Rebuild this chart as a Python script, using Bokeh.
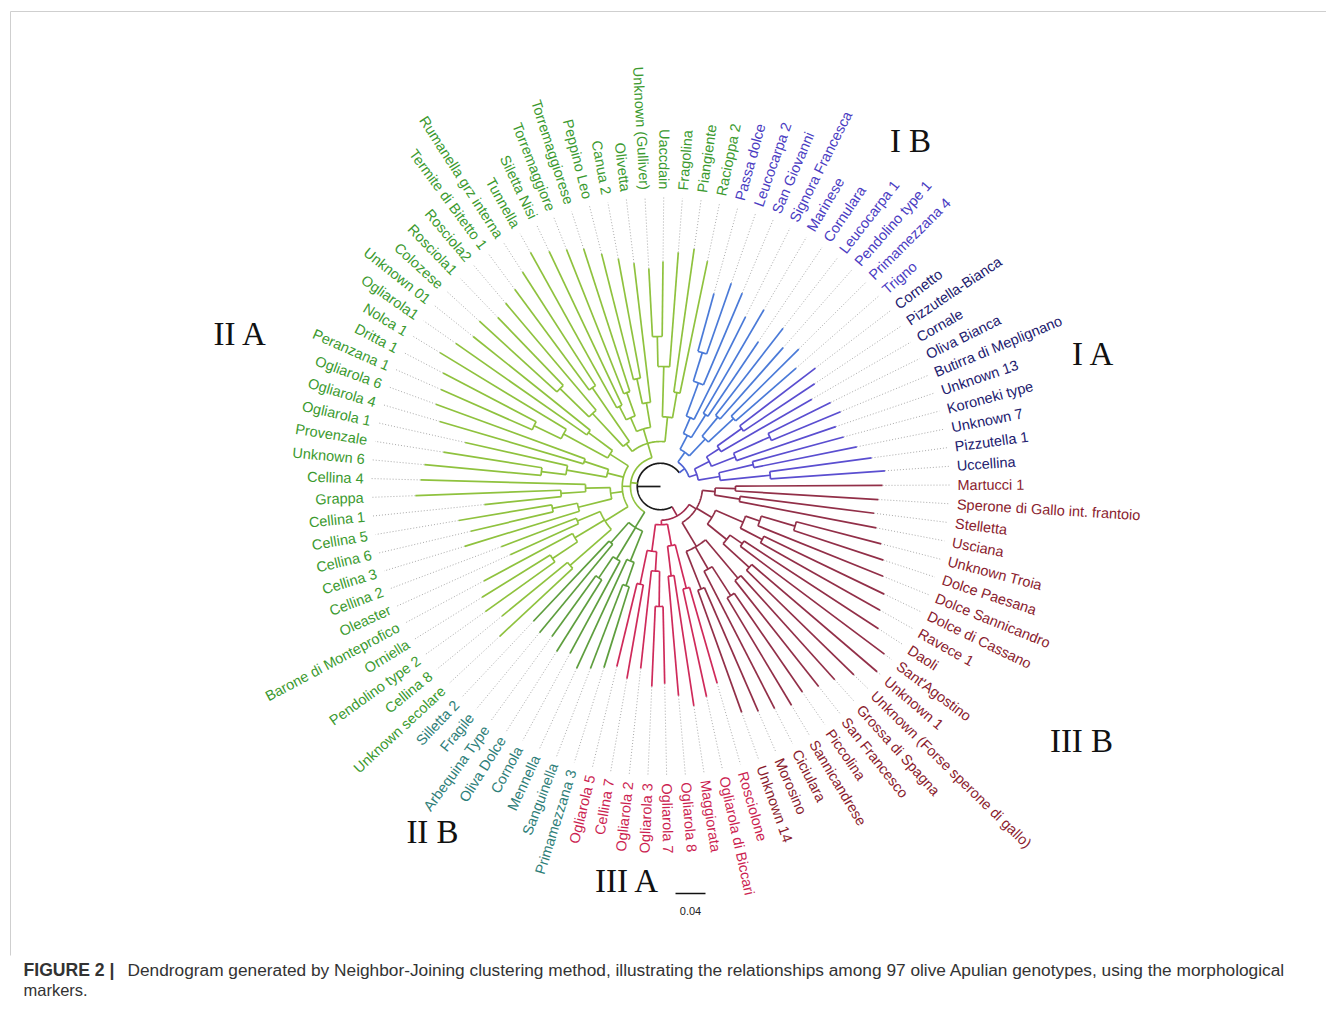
import math
from bokeh.plotting import figure
from bokeh.models import Range1d, ColumnDataSource
from bokeh.embed import file_html
from bokeh.resources import INLINE
from bokeh.core.properties import value

# ---------------- data ----------------
IA_NAMES = ["Uccellina", "Pizzutella 1", "Unknown 7", "Koroneki type", "Unknown 13",
            "Butirra di Meplignano", "Oliva Bianca", "Cornale", "Pizzutella-Bianca", "Cornetto"]
IB_NAMES = ["Trigno", "Primamezzana 4", "Pendolino type 1", "Leucocarpa 1", "Cornulara",
            "Marinese", "Signora Francesca", "San Giovanni", "Leucocarpa 2", "Passa dolce"]
IIA_NAMES = ["Racioppa 2", "Piangiente", "Fragolina", "Uaccdain", "Unknown (Gulliver)", "Olivetta",
             "Canua 2", "Peppino Leo", "Torremaggiorese", "Torremaggiore", "Siletta Nisi", "Tunnella",
             "Rumanella grz interna", "Termite di Bitetto 1", "Rosciola2", "Rosciola1", "Colozese",
             "Unknown 01", "Ogliarola1", "Nolca 1", "Dritta 1", "Peranzana 1", "Ogliarola 6",
             "Ogliarola 4", "Ogliarola 1", "Provenzale", "Unknown 6", "Cellina 4", "Grappa",
             "Cellina 1", "Cellina 5", "Cellina 6", "Cellina 3", "Cellina 2", "Oleaster",
             "Barone di Monteprofico", "Orniella", "Pendolino type 2", "Cellina 8", "Unknown secolare"]
IIB_NAMES = ["Silletta 2", "Fragile", "Arbequina Type", "Oliva Dolce", "Cornola", "Mennella",
             "Sanguinella", "Primamezzana 3"]
IIIA_NAMES = ["Ogliarola 5", "Cellina 7", "Ogliarola 2", "Ogliarola 3", "Ogliarola 7", "Ogliarola 8",
              "Maggiorata", "Ogliarola di Biccari", "Rosciolone"]
IIIB_NAMES = ["Unknown 14", "Morosino", "Ciciulara", "Sannicandrese", "Piccolina", "San Francesco",
              "Grossa di Spagna", "Unknown (Forse sperone di gallo)", "Unknown 1", "Sant'Agostino",
              "Daoli", "Ravece 1", "Dolce di Cassano", "Dolce Sannicandro", "Dolce Paesana",
              "Unknown Troia", "Usciana", "Stelletta", "Sperone di Gallo int. frantoio", "Martucci 1"]

# distance of each tip from the root (substitution units)
IA_TIPS = [0.300, 0.284, 0.267, 0.253, 0.247, 0.260, 0.253, 0.233, 0.247, 0.260]
IB_TIPS = [0.240, 0.260, 0.247, 0.267, 0.233, 0.273, 0.253, 0.280, 0.287, 0.267]
IIA_TIPS = [0.307, 0.320, 0.313, 0.300, 0.291, 0.300, 0.309, 0.320, 0.333, 0.340,
            0.347, 0.357, 0.340, 0.327, 0.320, 0.313, 0.327, 0.320, 0.333, 0.344,
            0.327, 0.320, 0.319, 0.307, 0.267, 0.293, 0.316, 0.320, 0.327, 0.236,
            0.273, 0.260, 0.273, 0.227, 0.220, 0.267, 0.280, 0.287, 0.273, 0.293]
IIB_TIPS = [0.247, 0.253, 0.247, 0.260, 0.253, 0.267, 0.260, 0.253]
IIIA_TIPS = [0.247, 0.260, 0.244, 0.267, 0.263, 0.280, 0.296, 0.287, 0.273]
IIIB_TIPS = [0.320, 0.327, 0.333, 0.340, 0.333, 0.340, 0.347, 0.360, 0.380, 0.373,
             0.347, 0.336, 0.331, 0.320, 0.313, 0.304, 0.293, 0.287, 0.291, 0.296]

# topology: [node depth, child, child, ...]; ints are 1-based leaf numbers
TREE_IA = [0.051, [0.080, [0.147, 1, 2], [0.127, 3, 4]],
           [0.073, [0.107, 5, [0.160, 6, 7]], [0.093, 8, [0.133, 9, 10]]]]
TREE_IB = [0.056, [0.087, [0.133, 11, 12], [0.120, 13, 14]],
           [0.077, [0.113, 15, 16], [0.100, 17, [0.147, 18, [0.187, 19, 20]]]]]
TREE_IIA_TOP = [0.060, [0.093, [0.127, 21, 22], [0.160, 23, [0.200, 24, 25]]],
                [0.080, [0.113, 26, [0.147, 27, 28]], [0.100, [0.133, 29, 30], [0.120, 31, 32]]],
                [0.073, [0.160, 33, 34], [0.133, 35, [0.187, 36, 37]]]]
TREE_IIA_LEFT = [0.051, [0.080, [0.120, 38, 39], [0.147, 40, [0.187, 41, 42]]],
                 [0.073, [0.107, 43, 44], [0.127, 45, [0.160, 46, 47]]],
                 [0.067, [0.100, 48, [0.133, 49, 50]], [0.113, [0.147, 51, 52], 53]],
                 [0.087, [0.120, 54, 55], [0.133, 56, [0.173, 57, 58]], [0.160, 59, 60]]]
TREE_IIB = [0.064, [0.100, 61, 62], [0.113, [0.147, 63, 64], 65], [0.107, 66, [0.140, 67, 68]]]
TREE_IIIA = [0.051, [0.087, [0.133, 69, 70], [0.113, 71, [0.160, 72, 73]]],
             [0.080, [0.120, 74, 75], [0.140, 76, 77]]]
TREE_IIIB = [0.056, [0.093, [0.147, 78, 79], [0.127, 80, [0.173, 81, 82]], [0.160, 83, 84]],
             [0.080, [0.113, [0.160, 85, 86], [0.133, 87, 88]],
              [0.120, [0.153, 89, 90], [0.140, 91, [0.187, 92, 93]]]],
             [0.073, [0.107, 94, 95], [0.100, 96, 97]]]
TREE_ROOT = [0.031, [0.040, TREE_IA, TREE_IB],
             [0.040, TREE_IIA_TOP, TREE_IIA_LEFT, TREE_IIB],
             [0.045, TREE_IIIA, TREE_IIIB]]

CLUSTER_LABELS = ["I B", "I A", "II A", "II B", "III A", "III B"]
SCALE_BAR_VALUE = 0.04

# ---------------- styling / layout ----------------
GROUPS = (["IA"] * len(IA_NAMES) + ["IB"] * len(IB_NAMES) + ["IIA"] * len(IIA_NAMES) +
          ["IIB"] * len(IIB_NAMES) + ["IIIA"] * len(IIIA_NAMES) + ["IIIB"] * len(IIIB_NAMES))
NAMES = IA_NAMES + IB_NAMES + IIA_NAMES + IIB_NAMES + IIIA_NAMES + IIIB_NAMES
TIPS = IA_TIPS + IB_TIPS + IIA_TIPS + IIB_TIPS + IIIA_TIPS + IIIB_TIPS

LABEL_COLOR = {"IA": "#22206e", "IB": "#4a3cc2", "IIA": "#3b9a2f", "IIB": "#2e7e78",
               "IIIA": "#cc1f52", "IIIB": "#8a1c2e"}
BRANCH_COLOR = {"IA": "#5a4ed0", "IB": "#4a7ad8", "IIA": "#8fc23e", "IIB": "#5e9e3e",
                "IIIA": "#cf2a5a", "IIIB": "#922f48"}
MIXED_COLOR = {frozenset(["IA", "IB"]): "#4f63d4", frozenset(["IIA", "IIB"]): "#8fc23e",
               frozenset(["IIIA", "IIIB"]): "#a02a4c"}
ROOT_COLOR = "#1a1a1a"

W, H = 1326, 998
PXU = 750.0           # pixels per substitution unit
CX, CY_S = 660, 486   # tree centre (screen px)
R_DOT = 289
R_LAB = 297
START = 4.0
STEP = 360.0 / len(NAMES)


def sy(y):
    return H - y


CY = sy(CY_S)
ANG = [math.radians(START + i * STEP) for i in range(len(NAMES))]


def pt(a, r):
    return CX + r * math.cos(a), CY + r * math.sin(a)


seg = {"x0": [], "y0": [], "x1": [], "y1": [], "c": []}
arcs = {"xs": [], "ys": [], "c": []}


def color_of(gs):
    if len(gs) == 1:
        return BRANCH_COLOR[next(iter(gs))]
    return MIXED_COLOR.get(frozenset(gs), ROOT_COLOR)


def layout(node):
    if isinstance(node, int):
        i = node - 1
        return ANG[i], TIPS[i] * PXU, {GROUPS[i]}
    d = node[0] * PXU
    kids = [layout(c) for c in node[1:]]
    gs = set()
    for a, r, g in kids:
        gs |= g
    for a, r, g in kids:
        x0, y0 = pt(a, d)
        x1, y1 = pt(a, r)
        seg["x0"].append(x0); seg["y0"].append(y0)
        seg["x1"].append(x1); seg["y1"].append(y1)
        seg["c"].append(color_of(g))
    a0, a1 = kids[0][0], kids[-1][0]
    n = max(2, int(abs(math.degrees(a1 - a0))) + 2)
    xs, ys = [], []
    for k in range(n):
        a = a0 + (a1 - a0) * k / (n - 1)
        x, y = pt(a, d)
        xs.append(x); ys.append(y)
    arcs["xs"].append(xs); arcs["ys"].append(ys)
    arcs["c"].append(color_of(gs) if node is not TREE_ROOT else ROOT_COLOR)
    return (a0 + a1) / 2, d, gs


root_a, root_d, _ = layout(TREE_ROOT)
x1, y1 = pt(math.pi, root_d)
seg["x0"].append(CX); seg["y0"].append(CY); seg["x1"].append(x1); seg["y1"].append(y1)
seg["c"].append(ROOT_COLOR)

p = figure(width=W, height=H, x_range=Range1d(0, W), y_range=Range1d(0, H),
           output_backend="svg", toolbar_location=None, min_border=0,
           x_axis_location=None, y_axis_location=None)
p.xgrid.visible = False
p.ygrid.visible = False
p.outline_line_color = None
p.background_fill_color = "white"
p.border_fill_color = "white"

# frame lines
p.segment(x0=[10, 10], y0=[sy(11), sy(11)], x1=[W, 10], y1=[sy(11), sy(955)],
          line_color="#cfcfcf", line_width=1)

# dotted guide lines
dot = {"x0": [], "y0": [], "x1": [], "y1": []}
for i in range(len(NAMES)):
    a = ANG[i]
    xa, ya = pt(a, TIPS[i] * PXU)
    xb, yb = pt(a, R_DOT)
    dot["x0"].append(xa); dot["y0"].append(ya); dot["x1"].append(xb); dot["y1"].append(yb)
p.segment(x0="x0", y0="y0", x1="x1", y1="y1", source=ColumnDataSource(dot),
          line_color="#aaaaaa", line_width=1, line_dash="1 2")

p.multi_line(xs="xs", ys="ys", source=ColumnDataSource(arcs), line_color="c", line_width=1.7)
p.segment(x0="x0", y0="y0", x1="x1", y1="y1", source=ColumnDataSource(seg),
          line_color="c", line_width=1.7)

# leaf labels
left = {"x": [], "y": [], "t": [], "a": [], "c": []}
right = {"x": [], "y": [], "t": [], "a": [], "c": []}
for i, name in enumerate(NAMES):
    deg = START + i * STEP
    a = ANG[i]
    x, y = pt(a, R_LAB)
    if 88.0 < deg < 269.0:
        d = right
        ang = a - math.pi
    else:
        d = left
        ang = a
    d["x"].append(x); d["y"].append(y); d["t"].append(name); d["a"].append(ang)
    d["c"].append(LABEL_COLOR[GROUPS[i]])
p.text(x="x", y="y", text="t", angle="a", source=ColumnDataSource(left), text_align="left",
       text_baseline="middle", text_font=value("Liberation Sans"), text_font_size="14.5px",
       text_color="c")
p.text(x="x", y="y", text="t", angle="a", source=ColumnDataSource(right), text_align="right",
       text_baseline="middle", text_font=value("Liberation Sans"), text_font_size="14.5px",
       text_color="c")

# cluster labels
CL_X = [910, 1093, 240, 432, 627, 1081]
CL_Y = [sy(140), sy(353), sy(333), sy(831), sy(880), sy(740)]
p.text(x=CL_X, y=CL_Y, text=CLUSTER_LABELS, text_align="center", text_baseline="middle",
       text_font=value("Liberation Serif"), text_font_size="33px", text_color="#111111")

# scale bar
p.segment(x0=[675], y0=[sy(893)], x1=[675 + SCALE_BAR_VALUE * PXU], y1=[sy(893)],
          line_color="#111111", line_width=1.5)
p.text(x=[675 + SCALE_BAR_VALUE * PXU / 2], y=[sy(910)], text=["%.2f" % SCALE_BAR_VALUE],
       text_align="center", text_baseline="middle", text_font=value("Liberation Sans"),
       text_font_size="11px", text_color="#222222")

# caption
p.text(x=[23], y=[sy(969)], text=["FIGURE 2 |"], text_align="left", text_baseline="middle",
       text_font=value("Liberation Sans"), text_font_size="17.6px", text_font_style="bold",
       text_color="#333333")
p.text(x=[127], y=[sy(969)],
       text=["Dendrogram generated by Neighbor-Joining clustering method, illustrating the relationships among 97 olive Apulian genotypes, using the morphological"],
       text_align="left", text_baseline="middle", text_font=value("Liberation Sans"),
       text_font_size="17.3px", text_color="#333333")
p.text(x=[23], y=[sy(989)], text=["markers."], text_align="left", text_baseline="middle",
       text_font=value("Liberation Sans"), text_font_size="16.5px", text_color="#333333")

open("out.html", "w").write(file_html(p, INLINE))
